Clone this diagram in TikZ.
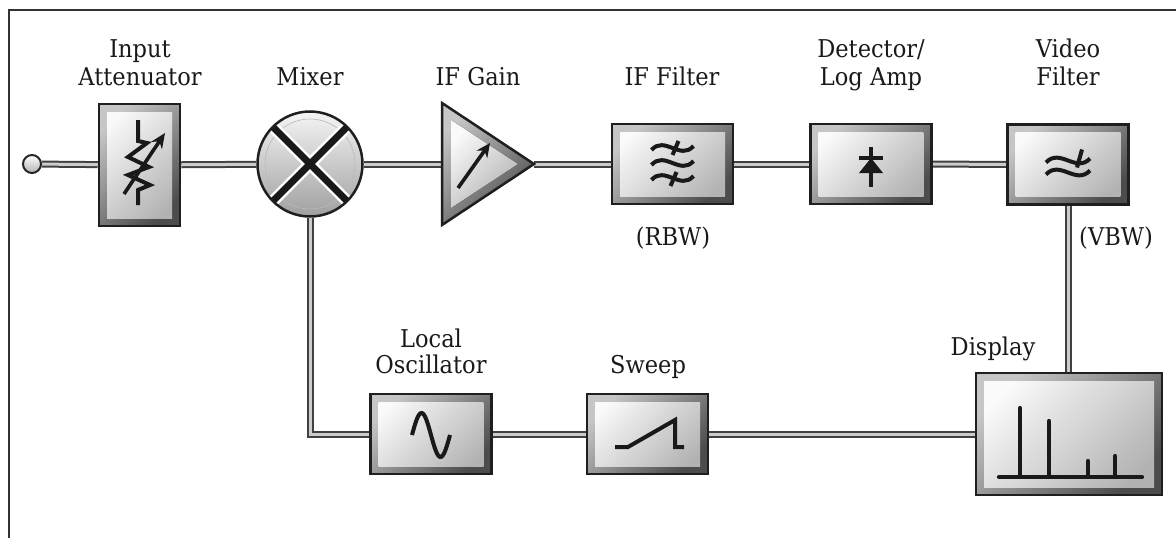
\documentclass[tikz,border=0pt]{standalone}
\usepackage{fontspec}
\setmainfont{DejaVu Serif}[FakeStretch=0.92]
\usetikzlibrary{arrows.meta}
\pgfdeclarelayer{background}
\pgfsetlayers{background,main}
\begin{document}
\begin{tikzpicture}[x=1pt,y=-1pt,
  lbl/.style={font=\fontsize{24.5}{28}\selectfont, text=black!90, inner sep=0pt, anchor=base},
  tube/.style={line width=7pt, draw=black!75, line join=miter, postaction={draw=gray!40, line width=3pt}},
  blk/.style={rectangle, inner sep=0pt, draw=black!88, line width=2.5pt,
    top color=gray!45, bottom color=black!70, shading angle=45,
    path picture={\fill[top color=white!96!gray, bottom color=gray!60, shading angle=45]
      ([shift={(8pt,-8pt)}]path picture bounding box.north west) rectangle
      ([shift={(-8pt,8pt)}]path picture bounding box.south east);}},
  wide/.style={blk, minimum width=121pt, minimum height=80pt},
  icon/.style={draw=black!90, line width=4pt, line join=miter},
]
\useasboundingbox (0,0) rectangle (1176,538);
% frame
\draw[black!80, line width=1.5pt] (1176,10) -- (9,10) -- (9,538);

% blocks
\node[circle, minimum size=18pt, inner sep=0pt, draw=black!85, line width=2pt,
      top color=white, bottom color=gray!60] (inp) at (32,164) {};
\node[blk, minimum width=81pt, minimum height=122pt] (att) at (139.5,165) {};
\node[circle, minimum size=105pt, inner sep=0pt, draw=black!88, line width=2.5pt,
      top color=white!92!gray, bottom color=gray!75,
      path picture={
        \draw[gray!55, line width=0.6pt] (path picture bounding box.center) circle (45pt);
        \draw[white, line width=12pt] ([shift={(-60pt,-60pt)}]path picture bounding box.center) -- ([shift={(60pt,60pt)}]path picture bounding box.center);
        \draw[white, line width=12pt] ([shift={(-60pt,60pt)}]path picture bounding box.center) -- ([shift={(60pt,-60pt)}]path picture bounding box.center);
        \draw[black!90, line width=7pt] ([shift={(-60pt,-60pt)}]path picture bounding box.center) -- ([shift={(60pt,60pt)}]path picture bounding box.center);
        \draw[black!90, line width=7pt] ([shift={(-60pt,60pt)}]path picture bounding box.center) -- ([shift={(60pt,-60pt)}]path picture bounding box.center);
      }] (mix) at (310,164) {};
% IF gain triangle
\filldraw[draw=black!88, line width=2.5pt, top color=gray!45, bottom color=black!70, shading angle=45]
  (442,103) -- (534,164) -- (442,225) -- cycle;
\fill[top color=white!96!gray, bottom color=gray!60, shading angle=45]
  (451,120) -- (518,164) -- (451,208) -- cycle;
\coordinate (gin) at (442,164);
\coordinate (gout) at (534,164);
\node[wide] (iff) at (672.5,164) {};
\node[wide] (det) at (871,164) {};
\node[wide] (vf) at (1068,164.5) {};
\node[wide] (lo) at (431,434) {};
\node[wide] (sw) at (647.5,434) {};
\node[blk, minimum width=186pt, minimum height=122pt] (disp) at (1069,434) {};

% connectors
\begin{pgfonlayer}{background}
\draw[tube] (inp) -- (att);
\draw[tube] (att) -- (mix);
\draw[tube] (mix) -- (gin);
\draw[tube] (gout) -- (iff);
\draw[tube] (iff) -- (det);
\draw[tube] (det) -- (vf);
\draw[tube] (vf) -- (vf |- disp.north);
\draw[tube] (mix.south) |- (lo);
\draw[tube] (lo) -- (sw);
\draw[tube] (sw) -- (disp);
\end{pgfonlayer}

% icons
\draw[icon] (138,120) -- (138,141) -- (147,143) -- (128,157) -- (149,167) -- (128,175) -- (150,185) -- (138,190) -- (138,205);
\draw[icon, line width=3.6pt, -{Stealth[length=15pt,width=13pt]}] (124,194) -- (165,133);
\draw[icon, line width=3.6pt, -{Stealth[length=14pt,width=13pt]}] (458,188) -- (490,143);
% IF filter
\begin{scope}[shift={(iff.center)}]
  \foreach \yy in {-16,-1,14}
    \draw[icon] (-21,\yy+2) .. controls (-8,\yy-13) and (8,\yy+13) .. (21,\yy-2);
  \draw[icon] (6,-23) -- (0,-9);
  \draw[icon] (4,8) -- (-2,22);
\end{scope}
% detector
\begin{scope}[shift={(det.center)}]
  \draw[icon] (0,-17) -- (0,23);
  \draw[icon] (-12,-6) -- (12,-6);
  \fill[black!90] (0,-6) -- (12,9) -- (-12,9) -- cycle;
\end{scope}
% video filter
\begin{scope}[shift={(vf.center)}]
  \foreach \yy in {-4,8}
    \draw[icon] (-22,\yy+2) .. controls (-8,\yy-13) and (8,\yy+13) .. (22,\yy-2);
  \draw[icon] (14,-15) -- (9,3);
\end{scope}
% local oscillator
\draw[icon] plot[domain=0:360, samples=50, smooth] ({412+\x/360*38}, {435-22*sin(\x)});
% sweep
\draw[icon] (615,447) -- (628,447) -- (675,420) -- (675,447) -- (684,447);
% display
\draw[icon, line width=4.2pt, line cap=round] (999,477) -- (1142,477);
\foreach \xx/\yy in {1020/408, 1049/421, 1088/461, 1115/456}
  \draw[icon, line width=4.2pt, line cap=round] (\xx,477) -- (\xx,\yy);

% labels
\node[lbl] (l1a) at (140,57) {Input};
\node[lbl] (l1b) at (140,85) {Attenuator};
\node[lbl] (l2) at (310,85) {Mixer};
\node[lbl] (l3) at (478,85) {IF Gain};
\node[lbl] (l4) at (672,85) {IF Filter};
\node[lbl] (l5a) at (871,57) {Detector/};
\node[lbl] (l5b) at (871,85) {Log Amp};
\node[lbl] (l6a) at (1068,57) {Video};
\node[lbl] (l6b) at (1068,85) {Filter};
\node[lbl] (l7) at (673,245) {(RBW)};
\node[lbl] (l8) at (1116,245) {(VBW)};
\node[lbl] (l9a) at (431,347) {Local};
\node[lbl] (l9b) at (431,373) {Oscillator};
\node[lbl] (l10) at (648,373) {Sweep};
\node[lbl] (l11) at (993,355) {Display};
\end{tikzpicture}
\end{document}
